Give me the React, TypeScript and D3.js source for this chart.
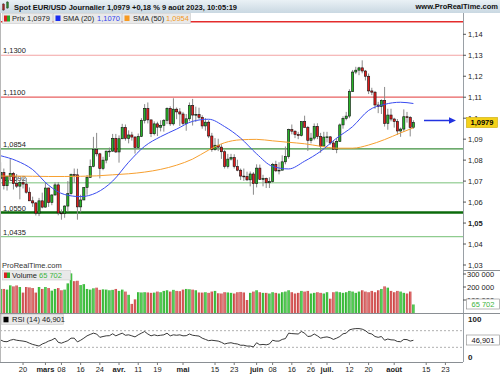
import React from "react";
import * as d3 from "d3";

const FONT = '"Liberation Sans", Arial, sans-serif';

// trading days (weekdays) from 9 Feb 2023, extended past the last candle for the axis
const isoDay = d3.timeFormat("%Y-%m-%d");
const days = d3.timeDay
  .range(new Date(2023, 1, 9), new Date(2023, 8, 1))
  .filter((d) => d.getDay() !== 0 && d.getDay() !== 6);

const opens = [
  1.0713, 1.0741, 1.0678, 1.0722, 1.0737, 1.0688, 1.0676, 1.0694, 1.0686, 1.0647, 1.0606, 1.0596, 1.0547, 1.0606,
  1.0576, 1.0667, 1.0598, 1.0634, 1.0682, 1.0548, 1.0545, 1.0581, 1.064, 1.0731, 1.073, 1.0577, 1.061, 1.067, 1.0718, 1.077, 1.085, 1.083, 1.076, 1.08, 1.0843, 1.0843, 1.0904,
  1.0839, 1.0902, 1.0955, 1.0904, 1.092, 1.091, 1.086, 1.0913, 1.099, 1.1047, 1.0992, 1.0926, 1.0973, 1.0957, 1.0966, 1.099, 1.1047, 1.0973, 1.1043, 1.103,
  1.102, 1.0975, 1.0997, 1.106, 1.1015, 1.1018, 1.1004, 1.0963, 1.0981, 1.0915, 1.085, 1.0871, 1.0862, 1.084, 1.077, 1.0805, 1.0812, 1.077, 1.0752, 1.0724, 1.0722, 1.0706, 1.0734,
  1.0688, 1.0762, 1.0708, 1.0713, 1.0692, 1.0698, 1.078, 1.0749, 1.0752, 1.0792, 1.0817, 1.0946, 1.0938, 1.0922, 1.0917, 1.0984, 1.0956, 1.0894, 1.0905, 1.0961, 1.0912, 1.0867,
  1.091, 1.0911, 1.0882, 1.0852, 1.0889, 1.0968, 1.0999, 1.101, 1.1127, 1.122, 1.1229, 1.124, 1.1225, 1.12, 1.113, 1.1124, 1.1063, 1.1055, 1.1085, 1.0975, 1.1015,
  1.0996, 1.0984, 1.0939, 1.0948, 1.1007, 1.1003, 1.0956,
];
const highs = [
  1.079, 1.076, 1.0725, 1.0805, 1.0744, 1.0734, 1.0705, 1.0725, 1.0715, 1.067, 1.0626, 1.06, 1.062, 1.0645,
  1.0691, 1.0669, 1.0637, 1.0694, 1.0695, 1.0565, 1.0585, 1.07, 1.0736, 1.076, 1.0759, 1.0635, 1.067, 1.0729, 1.0803, 1.0911, 1.093, 1.0835, 1.0816, 1.0845, 1.086, 1.0925, 1.0925,
  1.0918, 1.0973, 1.097, 1.0942, 1.0935, 1.0915, 1.0927, 1.1, 1.1067, 1.1075, 1.0992, 1.0985, 1.0983, 1.099, 1.0996, 1.1052, 1.1057, 1.1095, 1.1051, 1.1048,
  1.103, 1.102, 1.1075, 1.1092, 1.1055, 1.105, 1.1014, 1.1, 1.099, 1.093, 1.0905, 1.0902, 1.0876, 1.0848, 1.083, 1.083, 1.0828, 1.0802, 1.076, 1.076, 1.0745, 1.0746, 1.0743,
  1.078, 1.0779, 1.073, 1.0717, 1.0718, 1.0787, 1.0797, 1.079, 1.0823, 1.0865, 1.095, 1.097, 1.0942, 1.0935, 1.0985, 1.1012, 1.0963, 1.093, 1.0975, 1.0976, 1.093, 1.0935,
  1.0935, 1.0915, 1.0895, 1.0905, 1.0975, 1.1009, 1.103, 1.1138, 1.123, 1.1245, 1.1245, 1.1276, 1.123, 1.1213, 1.1145, 1.113, 1.1078, 1.109, 1.1149, 1.1045, 1.1045,
  1.1002, 1.0996, 1.0955, 1.1042, 1.103, 1.101, 1.099,
];
const lows = [
  1.0702, 1.066, 1.0655, 1.0704, 1.066, 1.0667, 1.0613, 1.0665, 1.064, 1.0605, 1.0577, 1.0536, 1.0533, 1.057,
  1.0574, 1.0577, 1.0585, 1.063, 1.0537, 1.0516, 1.0525, 1.0555, 1.0635, 1.0691, 1.0516, 1.0551, 1.061, 1.0635, 1.0715, 1.0766, 1.0818, 1.0713, 1.0752, 1.0785, 1.0815, 1.0839, 1.0834,
  1.0788, 1.09, 1.0893, 1.088, 1.0893, 1.0831, 1.0858, 1.091, 1.0975, 1.0975, 1.091, 1.0918, 1.0915, 1.0937, 1.0936, 1.0972, 1.0963, 1.0965, 1.0995, 1.0963,
  1.0967, 1.094, 1.0985, 1.0965, 1.0982, 1.0995, 1.095, 1.094, 1.0905, 1.084, 1.0845, 1.0843, 1.0806, 1.076, 1.076, 1.0798, 1.076, 1.0747, 1.0705, 1.0701, 1.07, 1.0675, 1.0635,
  1.067, 1.0706, 1.0675, 1.0667, 1.0667, 1.0693, 1.0743, 1.0732, 1.0752, 1.078, 1.0807, 1.0923, 1.0905, 1.09, 1.0913, 1.0956, 1.0844, 1.088, 1.0895, 1.09, 1.0835, 1.0867,
  1.0885, 1.0873, 1.0851, 1.0833, 1.0888, 1.095, 1.099, 1.1, 1.1125, 1.121, 1.1205, 1.1214, 1.118, 1.1115, 1.111, 1.1045, 1.1024, 1.102, 1.096, 1.0945, 1.0985,
  1.0955, 1.092, 1.0911, 1.0935, 1.0979, 1.0913, 1.095,
];
const closes = [
  1.0741, 1.0678, 1.0722, 1.0737, 1.0688, 1.0676, 1.0694, 1.0686, 1.0647, 1.0606, 1.0596, 1.0547, 1.0606, 1.0576,
  1.0667, 1.0598, 1.0634, 1.0682, 1.0548, 1.0545, 1.0581, 1.064, 1.0731, 1.073, 1.0577, 1.061, 1.067, 1.0718, 1.077, 1.085, 1.083, 1.076, 1.08, 1.0843, 1.0843, 1.0904, 1.0839,
  1.0902, 1.0955, 1.0904, 1.092, 1.091, 1.086, 1.0913, 1.099, 1.1047, 1.0992, 1.0926, 1.0973, 1.0957, 1.0966, 1.099, 1.1047, 1.0973, 1.1043, 1.103, 1.102,
  1.0975, 1.0997, 1.106, 1.1015, 1.1018, 1.1004, 1.0963, 1.0981, 1.0915, 1.085, 1.0871, 1.0862, 1.084, 1.077, 1.0805, 1.0812, 1.077, 1.0752, 1.0724, 1.0722, 1.0706, 1.0734, 1.0688,
  1.0762, 1.0708, 1.0713, 1.0692, 1.0698, 1.078, 1.0749, 1.0752, 1.0792, 1.0817, 1.0946, 1.0938, 1.0922, 1.0917, 1.0984, 1.0956, 1.0894, 1.0905, 1.0961, 1.0912, 1.0867, 1.091,
  1.0911, 1.0882, 1.0852, 1.0889, 1.0968, 1.0999, 1.101, 1.1127, 1.122, 1.1229, 1.124, 1.1225, 1.12, 1.113, 1.1124, 1.1063, 1.1055, 1.1085, 1.0975, 1.1015, 1.0996,
  1.0984, 1.0939, 1.0948, 1.1007, 1.1003, 1.0956, 1.0979,
];
const volumes = [
  185000, 185000, 180000, 213000, 205000, 212000, 200000, 157000, 200000, 197000, 192000, 157000, 200000, 185000,
  200000, 192000, 172000, 185000, 192000, 175000, 180000, 228000, 305000, 245000, 248000, 215000, 222000, 185000, 180000, 190000, 195000, 178000, 182000, 180000, 175000, 178000, 185000,
  170000, 180000, 165000, 140000, 70000, 105000, 160000, 158000, 160000, 158000, 155000, 157000, 165000, 160000, 170000, 175000, 165000, 178000, 170000, 168000,
  180000, 185000, 183000, 180000, 175000, 158000, 157000, 160000, 155000, 165000, 170000, 152000, 150000, 160000, 158000, 155000, 150000, 160000, 162000, 158000, 100000, 155000, 165000,
  175000, 160000, 155000, 155000, 150000, 160000, 155000, 150000, 160000, 165000, 175000, 160000, 150000, 155000, 170000, 165000, 170000, 150000, 155000, 160000, 155000, 150000,
  160000, 110000, 160000, 165000, 160000, 155000, 160000, 170000, 165000, 155000, 165000, 175000, 165000, 160000, 170000, 160000, 175000, 185000, 205000, 195000, 170000,
  160000, 170000, 165000, 155000, 150000, 165000, 65702,
];
const rsi14 = [
  47.6, 44, 43.5, 47, 49, 47, 46, 45, 43.5, 40, 37, 35, 33, 38, 41, 45, 47.6, 52, 42, 40,
  43, 46, 52, 52, 43, 47, 52, 57.6, 61, 64, 62, 54, 56, 57.6, 58, 62.5, 57.6, 61, 64, 59,
  60, 57.6, 55, 60, 64, 68, 62, 57.6, 60, 58, 59, 60, 64, 57.6, 60, 59, 60, 57.6, 58, 62,
  59, 58, 57, 52, 49, 46, 47, 46, 45, 42, 38, 40, 41, 39, 38, 35, 35, 33, 33, 31,
  41, 36, 37, 36, 38, 47, 45, 45, 49, 51, 64, 63, 62.5, 62, 68, 64, 56, 57, 62, 57.6,
  52, 54, 55, 53, 49, 52, 56, 62.5, 64, 72, 74, 75, 75, 73.7, 70, 64, 62, 56, 54, 56,
  47, 50, 48, 47.6, 44, 43.5, 49, 48.5, 45, 46.901,
];

// moving averages every 5 sessions
const smaDays = [0, 5, 10, 15, 20, 25, 30, 35, 40, 45, 50, 55, 60, 65, 70, 75, 80, 85, 90, 95, 100, 105, 110, 115, 120, 125, 129];
const sma20 = [1.0821, 1.0797, 1.0755, 1.068, 1.0636, 1.0626, 1.0645, 1.07, 1.079, 1.0866, 1.0912, 1.0948, 1.0985, 1.0995, 1.096, 1.0905, 1.083, 1.077, 1.0758, 1.0795, 1.0842, 1.0905, 1.096, 1.1037, 1.1066, 1.1076, 1.107];
const sma50 = [1.0724, 1.0724, 1.0723, 1.0722, 1.0722, 1.0723, 1.0725, 1.073, 1.0735, 1.0743, 1.0756, 1.0776, 1.0805, 1.0848, 1.0883, 1.0897, 1.0899, 1.0892, 1.0885, 1.0878, 1.0866, 1.0857, 1.0857, 1.0872, 1.0898, 1.093, 1.0954];

const levelPrices = [1.146, 1.13, 1.11, 1.0854, 1.0692, 1.055, 1.0435];
const levelLabels = ["", "1,1300", "1,1100", "1,0854", "1,0692", "1,0550", "1,0435"];
const levelColors = ["#e42c2c", "#f3a3a3", "#e86060", "#3d8f3d", "#a6d6a6", "#0b6b0b", "#8fcc8f"];
const levelWidths = [1.6, 1.2, 1.2, 1.2, 1.5, 2.6, 1.2];

const priceTicks = [1.14, 1.13, 1.12, 1.11, 1.1, 1.09, 1.08, 1.07, 1.06, 1.05, 1.04, 1.03];
const volumeTicks = [100000, 200000, 300000];
const rsiTicks = [0, 100];
const rsiBands = [30, 70];

const tickDays = ["2023-02-20", "2023-03-01", "2023-03-08", "2023-03-16", "2023-03-24", "2023-04-03", "2023-04-11", "2023-04-19", "2023-05-01", "2023-05-15", "2023-05-23", "2023-06-01", "2023-06-08", "2023-06-16", "2023-06-26", "2023-07-03", "2023-07-12", "2023-07-20", "2023-08-01", "2023-08-15", "2023-08-23"];
const tickLabels = ["20", "mars", "08", "16", "24", "avr.", "11", "19", "mai", "15", "23", "juin", "08", "16", "26", "juil.", "12", "20", "août", "15", "23"];
const monthLabels = ["mars", "avr.", "mai", "juin", "juil.", "août"];

const fmtPrice = (v: number) => String(+v.toFixed(2)).replace(".", ",");
const fmtVol = (v: number) => d3.format(",")(v).replace(/,/g, " ");

export default function App() {
  const plotRight = 463;
  const x = d3.scaleLinear().domain([-0.2, 144.5]).range([0, plotRight]);
  const y = d3.scaleLinear().domain([1.03, 1.14]).range([265, 34.3]);
  const yVol = d3.scaleLinear().domain([0, 300000]).range([313, 274]);
  const yRsi = d3.scaleLinear().domain([0, 100]).range([359.8, 318.2]);

  const dayIndex = new Map(days.map((d, i) => [isoDay(d), i]));
  const last = closes.length - 1;

  const smaPath = (vals: number[]) =>
    d3
      .line<number>()
      .x((_, i) => x(smaDays[i]))
      .y((v) => y(v))
      .curve(d3.curveMonotoneX)(vals) || "";

  const rsiPath =
    d3
      .line<number>()
      .x((_, i) => x(i))
      .y((v) => yRsi(v))(rsi14) || "";

  const bodyW = 2.2;
  const volW = 2.4;

  return (
    <svg
      width={500}
      height={375}
      style={{ position: "absolute", left: 0, top: 0, background: "#fff", fontFamily: FONT }}
    >
      <defs>
        <linearGradient id="hdr" x1="0" y1="0" x2="0" y2="1">
          <stop offset="0" stopColor="#eaf1f5" />
          <stop offset="1" stopColor="#c9d8e2" />
        </linearGradient>
        <linearGradient id="vg" x1="0" y1="0" x2="1" y2="0">
          <stop offset="0" stopColor="#1c961c" />
          <stop offset="0.5" stopColor="#55d455" />
          <stop offset="1" stopColor="#28a828" />
        </linearGradient>
        <linearGradient id="vr" x1="0" y1="0" x2="1" y2="0">
          <stop offset="0" stopColor="#b52828" />
          <stop offset="0.5" stopColor="#e57575" />
          <stop offset="1" stopColor="#c23636" />
        </linearGradient>
        <clipPath id="pclip">
          <rect x={0} y={13} width={plotRight} height={257} />
        </clipPath>
      </defs>

      {/* support / resistance lines */}
      {levelPrices.map((p, i) => (
        <g key={"lv" + i}>
          <line x1={0} x2={plotRight} y1={y(p)} y2={y(p)} stroke={levelColors[i]} strokeWidth={levelWidths[i]} />
          {levelLabels[i] && (
            <text x={3} y={y(p) - 2} fontSize={7.5} fill="#222">
              {levelLabels[i]}
            </text>
          )}
        </g>
      ))}

      {/* candles */}
      <g clipPath="url(#pclip)">
        {closes.map((c, i) => {
          const o = opens[i];
          const up = c >= o;
          const top = y(Math.max(o, c));
          const h = Math.max(0.8, Math.abs(y(o) - y(c)));
          return (
            <g key={"c" + i}>
              <line x1={x(i)} x2={x(i)} y1={y(highs[i])} y2={y(lows[i])} stroke="#8a8a8a" strokeWidth={1} />
              <rect
                x={x(i) - bodyW / 2}
                y={top}
                width={bodyW}
                height={h}
                fill={up ? "#27b427" : "#e11b1b"}
                stroke="#111"
                strokeWidth={0.6}
              />
            </g>
          );
        })}
        <path d={smaPath(sma50)} fill="none" stroke="#f7a030" strokeWidth={1} />
        <path d={smaPath(sma20)} fill="none" stroke="#3a4cf0" strokeWidth={1} />
      </g>

      {/* last price arrow */}
      <line x1={424} x2={450} y1={120.5} y2={120.5} stroke="#2233e0" strokeWidth={1.5} />
      <polygon points="449,117.2 456,120.5 449,123.8" fill="#2233e0" />

      <text x={2} y={268} fontSize={7.5} fill="#333">
        ProRealTime.com
      </text>

      {/* volume */}
      {volumes.map((v, i) => (
        <rect
          key={"v" + i}
          x={x(i) - volW / 2}
          y={yVol(v)}
          width={volW}
          height={yVol(0) - yVol(v)}
          fill={closes[i] >= opens[i] ? "url(#vg)" : "url(#vr)"}
        />
      ))}

      {/* RSI */}
      {rsiBands.map((b) => (
        <line key={"rb" + b} x1={0} x2={plotRight} y1={yRsi(b)} y2={yRsi(b)} stroke="#b0b0b0" strokeDasharray="2,2" />
      ))}
      <path d={rsiPath} fill="none" stroke="#222" strokeWidth={0.9} />

      {/* panel frames */}
      <rect x={plotRight} y={13} width={37} height={350} fill="#fff" />
      <line x1={0.5} x2={0.5} y1={13} y2={362} stroke="#b8b8b8" />
      <line x1={plotRight + 0.5} x2={plotRight + 0.5} y1={13} y2={362} stroke="#9aa0a6" />
      <line x1={plotRight} x2={500} y1={270.5} y2={270.5} stroke="#8a8f94" />
      <line x1={0} x2={500} y1={313.5} y2={313.5} stroke="#8a8f94" />
      <line x1={0} x2={plotRight} y1={362.5} y2={362.5} stroke="#8a8f94" />

      {/* price axis */}
      {priceTicks.map((t) => (
        <g key={"pt" + t}>
          <line x1={plotRight} x2={plotRight + 3} y1={y(t)} y2={y(t)} stroke="#555" />
          <text x={468} y={y(t) + 2.6} fontSize={7.5} fill="#222" fontWeight={t === 1.05 ? "bold" : "normal"}>
            {fmtPrice(t)}
          </text>
        </g>
      ))}
      <rect x={466.5} y={117.5} width={31} height={10} fill="#f4d11a" stroke="#c9a800" strokeWidth={0.6} />
      <text x={482} y={125.2} fontSize={7.5} fontWeight="bold" textAnchor="middle" fill="#000">
        {closes[last].toFixed(4).replace(".", ",")}
      </text>

      {/* volume axis */}
      {volumeTicks.map((t) => (
        <g key={"vt" + t}>
          <line x1={plotRight} x2={plotRight + 3} y1={yVol(t)} y2={yVol(t)} stroke="#555" />
          <text x={467} y={yVol(t) + 2.6} fontSize={7.5} fill="#222">
            {fmtVol(t)}
          </text>
        </g>
      ))}
      <rect x={466.5} y={299} width={33} height={10} fill="#fff" stroke="#888" strokeWidth={0.6} />
      <text x={483} y={306.6} fontSize={7.5} textAnchor="middle" fill="#3db43d">
        {fmtVol(volumes[last])}
      </text>

      {/* RSI axis */}
      {rsiTicks.map((t) => (
        <text key={"rt" + t} x={468} y={yRsi(t) + (t === 100 ? 3.5 : 0)} fontSize={8} fontWeight="bold" fill="#222">
          {t}
        </text>
      ))}
      <rect x={466.5} y={335} width={33} height={10} fill="#fff" stroke="#888" strokeWidth={0.6} />
      <text x={483} y={342.6} fontSize={7.5} textAnchor="middle" fill="#111">
        {rsi14[last].toFixed(3).replace(".", ",")}
      </text>

      {/* time axis */}
      {tickDays.map((d, k) => {
        const i = dayIndex.get(d);
        if (i === undefined) return null;
        const isMonth = monthLabels.includes(tickLabels[k]);
        return (
          <g key={"xt" + k}>
            <line x1={x(i)} x2={x(i)} y1={362.5} y2={365} stroke="#777" />
            <text x={x(i)} y={371.5} fontSize={7.5} textAnchor="middle" fontWeight={isMonth ? "bold" : "normal"} fill="#222">
              {tickLabels[k]}
            </text>
          </g>
        );
      })}

      {/* header */}
      <rect x={0} y={0} width={500} height={13} fill="url(#hdr)" />
      <rect x={2.5} y={4} width={2} height={6} fill="#e02020" stroke="#333" strokeWidth={0.4} />
      <rect x={6.5} y={2} width={2} height={6} fill="#27b427" stroke="#333" strokeWidth={0.4} />
      <line x1={3.5} x2={3.5} y1={3} y2={11} stroke="#333" strokeWidth={0.4} />
      <line x1={7.5} x2={7.5} y1={1} y2={9} stroke="#333" strokeWidth={0.4} />
      <text x={14} y={9.6} fontSize={8} fontWeight="bold" fill="#111" textLength={223} lengthAdjust="spacingAndGlyphs">
        Spot EUR/USD Journalier 1,0979 +0,18 % 9 août 2023, 10:05:19
      </text>
      <text x={498} y={9.4} fontSize={7.5} fontWeight="bold" fill="#111" textAnchor="end">
        www.ProRealTime.com
      </text>

      {/* legends */}
      <g fontSize={7.5}>
        <rect x={2.5} y={13.5} width={50} height={10} fill="#e9e9e9" stroke="#c8c8c8" strokeWidth={0.6} />
        <rect x={4} y={15.5} width={3} height={6} fill="#d82222" />
        <rect x={7} y={15.5} width={3} height={6} fill="#2aa82a" />
        <text x={12} y={21.2} fill="#222">Prix 1,0979</text>
        <rect x={53.5} y={13.5} width={68} height={10} fill="#e9e9e9" stroke="#c8c8c8" strokeWidth={0.6} />
        <rect x={55.5} y={15.5} width={5} height={5.5} fill="#1a2cf0" />
        <text x={63} y={21.2} fill="#222">SMA (20)</text>
        <text x={97} y={21.2} fill="#3344ee">1,1070</text>
        <rect x={122.5} y={13.5} width={68} height={10} fill="#e9e9e9" stroke="#c8c8c8" strokeWidth={0.6} />
        <rect x={124.5} y={15.5} width={5} height={5.5} fill="#f79a20" />
        <text x={133} y={21.2} fill="#222">SMA (50)</text>
        <text x={166} y={21.2} fill="#f39a25">1,0954</text>

        <rect x={2.5} y={270.5} width={68} height={9.5} fill="#e9e9e9" stroke="#c8c8c8" strokeWidth={0.6} />
        <rect x={4} y={272.5} width={3} height={5.5} fill="#d82222" />
        <rect x={7} y={272.5} width={3} height={5.5} fill="#2aa82a" />
        <text x={12} y={278} fill="#222">Volume</text>
        <text x={39} y={278} fill="#3db43d">65 702</text>

        <rect x={1.5} y={314.5} width={62} height={10} fill="#e9e9e9" stroke="#c8c8c8" strokeWidth={0.6} />
        <rect x={3.5} y={316.8} width={5} height={5.5} fill="#000" />
        <text x={12} y={322.3} fill="#222">RSI (14) 46,901</text>
      </g>
    </svg>
  );
}
